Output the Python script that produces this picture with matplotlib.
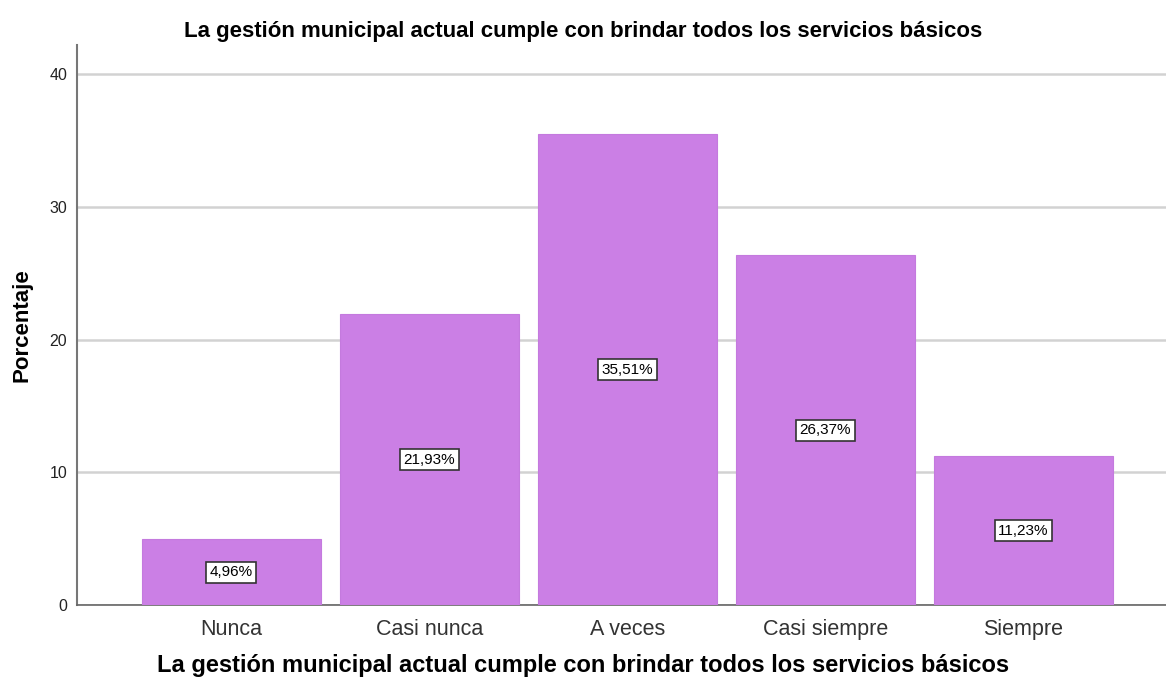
import matplotlib.pyplot as plt

categorias = ['Nunca', 'Casi nunca', 'A veces', 'Casi siempre', 'Siempre']
porcentajes = [4.96, 21.93, 35.51, 26.37, 11.23]
etiquetas = ['4,96%', '21,93%', '35,51%', '26,37%', '11,23%']
yticks = [0, 10, 20, 30, 40]

plt.rcParams['font.family'] = ['Liberation Sans', 'DejaVu Sans']

fig = plt.figure(figsize=(11.66, 6.83), dpi=100)
ax = fig.add_axes([0.066, 0.114, 0.934, 0.82])

x = list(range(len(categorias)))
ax.bar(x, porcentajes, width=0.9, color='#cb7fe5', edgecolor='#c47ade', linewidth=0.8, zorder=3)

# etiquetas de porcentaje al centro de cada barra
for xi, v, t in zip(x, porcentajes, etiquetas):
    ax.text(xi, v / 2, t, ha='center', va='center', fontsize=11, color='black', zorder=4,
            bbox=dict(boxstyle='square,pad=0.22', facecolor='white', edgecolor='#333333', linewidth=1.2))

ax.set_xlim(-0.78, 4.72)
ax.set_ylim(0, 42.2)
ax.set_yticks(yticks)
ax.set_yticklabels([str(t) for t in yticks], fontsize=11.5, color='#222222')
ax.set_xticks(x)
ax.set_xticklabels(categorias, fontsize=15.5, color='#333333')
ax.tick_params(axis='both', length=0)
ax.tick_params(axis='y', pad=7)
ax.tick_params(axis='x', pad=10)

ax.grid(axis='y', color='#d2d2d2', linewidth=1.8, zorder=0)
ax.set_axisbelow(True)
for s in ['top', 'right']:
    ax.spines[s].set_visible(False)
ax.spines['left'].set_color('#777777')
ax.spines['left'].set_linewidth(1.5)
ax.spines['bottom'].set_color('#666666')
ax.spines['bottom'].set_linewidth(1.2)

# titulo y etiqueta del eje x centrados en la figura
xc = (0.5 - 0.066) / 0.934
ax.set_title('La gestión municipal actual cumple con brindar todos los servicios básicos',
             fontsize=16, fontweight='bold', pad=6, x=xc)
ax.set_xlabel('La gestión municipal actual cumple con brindar todos los servicios básicos',
              fontsize=17, fontweight='bold', labelpad=10, x=xc)
ax.set_ylabel('Porcentaje', fontsize=16, fontweight='bold', labelpad=12)

fig.savefig('out.png', dpi=100)
